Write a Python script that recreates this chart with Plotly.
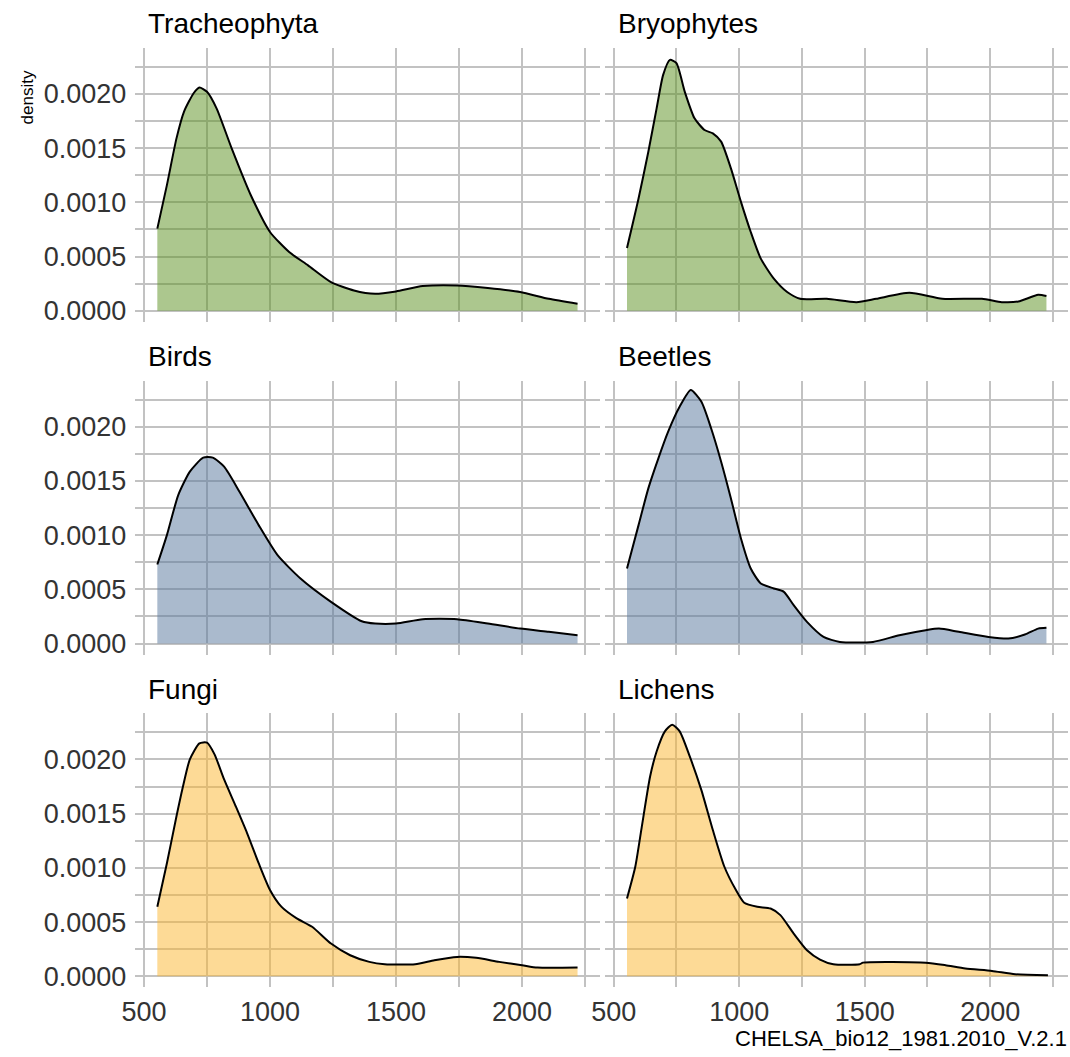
import plotly.graph_objects as go

# Annual precipitation (CHELSA bio12) density per taxonomic group
panel_names = ["Tracheophyta", "Bryophytes", "Birds", "Beetles", "Fungi", "Lichens"]

tracheophyta_x = [553, 591, 629, 659, 697, 720, 750, 788, 848, 924, 1000, 1076, 1151, 1242,
                  1333, 1417, 1500, 1606, 1742, 1864, 1992, 2106, 2220]
tracheophyta_y = [0.000758, 0.001159, 0.00159, 0.001837, 0.002006, 0.002059, 0.00202, 0.001867,
                  0.001498, 0.001066, 0.000727, 0.000542, 0.000419, 0.000265, 0.000188, 0.000157,
                  0.000179, 0.000228, 0.000234, 0.00021, 0.000173, 0.000111, 0.0000647]

bryophytes_x = [553, 599, 638, 671, 697, 724, 750, 783, 822, 862, 895, 928, 967, 1007, 1046,
                1086, 1138, 1191, 1243, 1349, 1467, 1546, 1678, 1809, 1967, 2046, 2112, 2191, 2224]
bryophytes_y = [0.000579, 0.001035, 0.001467, 0.001867, 0.002176, 0.002314, 0.002283, 0.002021,
                0.001775, 0.001667, 0.001636, 0.00156, 0.001313, 0.001005, 0.000727, 0.000481,
                0.000296, 0.000173, 0.000111, 0.000111, 0.00008, 0.000111, 0.000166, 0.000111,
                0.000111, 0.00008, 0.000086, 0.000148, 0.000136]

birds_x = [553, 591, 636, 682, 735, 773, 818, 879, 955, 1030, 1121, 1242, 1364, 1417, 1500,
           1606, 1742, 1864, 1992, 2106, 2220]
birds_y = [0.000729, 0.001, 0.001369, 0.001585, 0.001714, 0.001714, 0.001631, 0.0014, 0.001092,
           0.000815, 0.0006, 0.000385, 0.000206, 0.000185, 0.000185, 0.000225, 0.000225,
           0.000185, 0.000138, 0.000108, 0.000077]

beetles_x = [553, 599, 638, 678, 717, 763, 807, 849, 888, 928, 967, 1007, 1046, 1086, 1138,
             1178, 1217, 1270, 1336, 1401, 1533, 1638, 1743, 1796, 1875, 1993, 2072, 2138,
             2191, 2224]
beetles_y = [0.000692, 0.001092, 0.001431, 0.001708, 0.001954, 0.002185, 0.002338, 0.002231,
             0.001985, 0.001677, 0.001338, 0.000969, 0.000692, 0.000554, 0.000508, 0.000477,
             0.000354, 0.0002, 0.0000615, 0.0000154, 0.0000154, 0.0000769, 0.000123, 0.000138,
             0.000108, 0.0000615, 0.0000462, 0.0000831, 0.000138, 0.000145]

fungi_x = [553, 591, 629, 652, 682, 720, 750, 780, 818, 864, 909, 955, 1000, 1045, 1106, 1167,
           1242, 1318, 1394, 1455, 1576, 1652, 1742, 1818, 1909, 2000, 2061, 2220]
fungi_y = [0.000642, 0.001043, 0.001475, 0.001722, 0.002, 0.002148, 0.002154, 0.002046,
           0.001815, 0.001568, 0.001321, 0.001043, 0.000796, 0.000642, 0.000534, 0.000457,
           0.000302, 0.000194, 0.000133, 0.000111, 0.000111, 0.000148, 0.000179, 0.00017,
           0.000133, 0.000102, 0.00008, 0.00008]

lichens_x = [553, 586, 612, 645, 671, 704, 733, 763, 803, 849, 895, 941, 987, 1020, 1072,
             1125, 1164, 1217, 1270, 1322, 1375, 1480, 1493, 1743, 1822, 1901, 2007, 2099, 2230]
lichens_y = [0.000718, 0.00101, 0.00138, 0.001842, 0.002073, 0.002258, 0.00232, 0.002258,
             0.002027, 0.001719, 0.001349, 0.00101, 0.000795, 0.000678, 0.000641, 0.000625,
             0.000564, 0.000394, 0.00024, 0.000154, 0.000111, 0.000111, 0.000126, 0.000126,
             0.000102, 0.0000709, 0.0000493, 0.0000185, 0.0000092]

series_x = [tracheophyta_x, bryophytes_x, birds_x, beetles_x, fungi_x, lichens_x]
series_y = [tracheophyta_y, bryophytes_y, birds_y, beetles_y, fungi_y, lichens_y]

# fill colour per row (plants, animals, fungi & lichens)
row_fills = ["rgba(89,143,29,0.5)", "rgba(85,117,155,0.5)", "rgba(251,181,45,0.5)"]

x_ticks = [500, 1000, 1500, 2000]
y_ticks = [0.0, 0.0005, 0.0010, 0.0015, 0.0020]
x_title = "CHELSA_bio12_1981.2010_V.2.1"
y_title = "density"

W, H = 1070, 1057
col_px = [(123, 594), (599, 1068)]
row_px = [(48, 323), (382, 657), (716, 991)]
x_range = [466, 2310]
y_range = [-0.000101, 0.002425]

GRID = "#c2c2c2"
FONT = "Liberation Sans, Arial, sans-serif"

fig = go.Figure()
layout_axes = {}
annotations = []

for i, name in enumerate(panel_names):
    r, c = divmod(i, 2)
    k = i + 1
    xa = "x" if k == 1 else f"x{k}"
    ya = "y" if k == 1 else f"y{k}"
    fig.add_trace(go.Scatter(
        x=series_x[i], y=series_y[i], xaxis=xa, yaxis=ya,
        mode="lines", line=dict(color="black", width=2, shape="spline", smoothing=0.6),
        fill="tozeroy", fillcolor=row_fills[r], showlegend=False, hoverinfo="skip",
    ))
    x0, x1 = col_px[c]
    y0, y1 = row_px[r]
    layout_axes["xaxis" if k == 1 else f"xaxis{k}"] = dict(
        domain=[x0 / W, x1 / W], anchor=ya, range=x_range,
        tickvals=x_ticks, ticktext=[str(v) for v in x_ticks],
        showticklabels=(r == 2), ticks="", ticklen=0, ticklabelstandoff=6,
        showgrid=True, gridcolor=GRID, gridwidth=1.8, zeroline=False, showline=False,
        minor=dict(dtick=250, tick0=0, showgrid=True, gridcolor=GRID, gridwidth=1.8),
        tickfont=dict(family=FONT, size=27, color="#333333"),
    )
    layout_axes["yaxis" if k == 1 else f"yaxis{k}"] = dict(
        domain=[1 - y1 / H, 1 - y0 / H], anchor=xa, range=y_range,
        tickvals=y_ticks, ticktext=[f"{v:.4f}" for v in y_ticks],
        showticklabels=(c == 0), ticks="", ticklen=0, ticklabelstandoff=8,
        showgrid=True, gridcolor=GRID, gridwidth=1.8, zeroline=False, showline=False,
        minor=dict(dtick=0.00025, tick0=0, showgrid=True, gridcolor=GRID, gridwidth=1.8),
        tickfont=dict(family=FONT, size=27, color="#333333"),
    )
    annotations.append(dict(
        text=name, xref="paper", yref="paper",
        x=(x0 + 11) / W, y=1 - (y0 - 24) / H, xanchor="left", yanchor="middle",
        showarrow=False, font=dict(family=FONT, size=28, color="black"),
    ))

annotations.append(dict(
    text=x_title, xref="paper", yref="paper", x=1069 / W, y=1 - 1042 / H,
    xanchor="right", yanchor="middle", showarrow=False,
    font=dict(family=FONT, size=22, color="black"),
))
annotations.append(dict(
    text=y_title, xref="paper", yref="paper", x=14 / W, y=1 - 98 / H,
    xanchor="center", yanchor="middle", textangle=-90, showarrow=False,
    font=dict(family=FONT, size=17, color="black"),
))

fig.update_layout(
    width=W, height=H, margin=dict(l=0, r=0, t=0, b=0),
    paper_bgcolor="white", plot_bgcolor="white",
    annotations=annotations, **layout_axes,
)

fig.write_html("out.html")
